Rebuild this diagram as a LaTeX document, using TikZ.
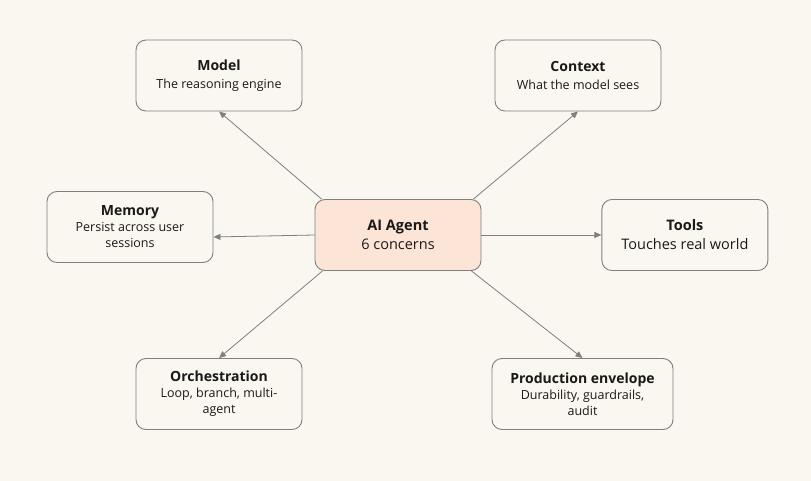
\documentclass[tikz,border=0pt]{standalone}
\usepackage{fontspec}
\setmainfont{Open Sans}
\usepackage{xcolor}
\usetikzlibrary{arrows.meta, positioning}

\definecolor{paper}{HTML}{FAF6F0}
\definecolor{peach}{HTML}{FCE4D6}
\definecolor{edge}{HTML}{7F7F7F}

\newcommand{\headline}[1]{{\fontsize{14}{18}\selectfont\textbf{#1}}}

\begin{document}
\begin{tikzpicture}[
    x=1pt, y=-1pt,
    concern/.style={rectangle, draw=edge, fill=paper, line width=0.9pt, rounded corners=10pt, minimum width=166pt, minimum height=71pt, align=center, font=\fontsize{12.5}{16}\selectfont, text=black!90},
    hub/.style={concern, fill=peach, font=\fontsize{14.5}{19}\selectfont},
    link/.style={-{Triangle[length=7pt, width=6pt]}, line width=0.8pt, draw=edge}
]

% Canvas
\fill[paper] (0,0) rectangle (811,481);
\useasboundingbox (0,0) rectangle (811,481);

% Hub
\node[hub] (agent) at (398,235) {\textbf{AI Agent}\\6 concerns};

% Concerns around the hub
\node[concern] (model) at (219,75.5) {\headline{Model}\\[1.5pt]The reasoning engine};
\node[concern] (context) at (578,75.5) {\headline{Context}\\[1.5pt]What the model sees};
\node[concern] (memory) at (130,227) {\headline{Memory}\\Persist across user\\sessions};
\node[concern, font=\fontsize{14.5}{19}\selectfont, right=120pt of agent] (tools) {\textbf{Tools}\\Touches real world};
\node[concern] (orchestration) at (219,394) {\headline{Orchestration}\\Loop, branch, multi-\\agent};
\node[concern, minimum width=181pt] (envelope) at (582.5,394) {\headline{Production envelope}\\Durability, guardrails,\\audit};

% Connectors
\draw[link] ([xshift=7pt]agent.north west) -- (model.south);
\draw[link] ([xshift=-8pt]agent.north east) -- (context.south);
\draw[link] (agent.west) -- ([yshift=-10pt]memory.east);
\draw[link] (agent.east) -- (tools.west);
\draw[link] ([xshift=8pt]agent.south west) -- (orchestration.north);
\draw[link] ([xshift=-10pt]agent.south east) -- (envelope.north);

\end{tikzpicture}
\end{document}
